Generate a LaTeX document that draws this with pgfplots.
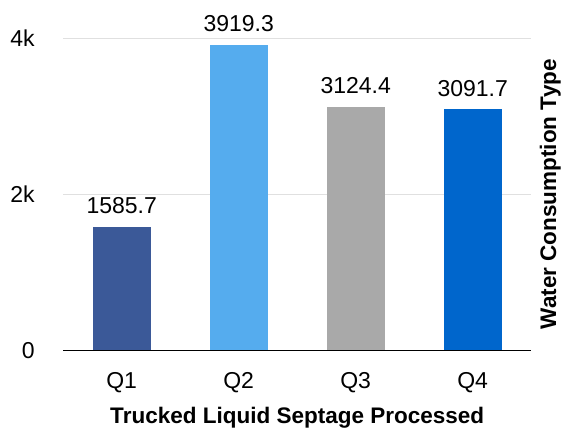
\documentclass[border=0pt]{standalone}
\usepackage{pgfplots}
\pgfplotsset{compat=1.18}
\usepackage{fontspec}
\setmainfont{Liberation Sans}
\definecolor{c1}{HTML}{3B5998}
\definecolor{c2}{HTML}{55ACEE}
\definecolor{c3}{HTML}{A9A9A9}
\definecolor{c4}{HTML}{0066CC}
\definecolor{gridc}{HTML}{E0E0E0}
\begin{document}
\begin{tikzpicture}[x=1pt,y=1pt]
\path[use as bounding box] (0,0) rectangle (562,429);
\begin{axis}[
  at={(104,101)}, anchor=origin,
  scale only axis, width=468pt, height=312pt,
  xmin=-0.5, xmax=3.5, ymin=0, ymax=4000,
  xtick={0,1,2,3}, xticklabels={Q1,Q2,Q3,Q4},
  ytick={0,2000,4000}, yticklabels={0,2k,4k},
  ymajorgrids, grid style={gridc, line width=1.2pt},
  axis x line*=bottom, axis y line*=left,
  y axis line style={draw=none},
  x axis line style={black, line width=1.3pt, -},
  major tick length=0pt,
  tick label style={font=\fontsize{23}{27}\selectfont},
  xticklabel style={yshift=-19pt},
  yticklabel style={xshift=-25pt},
  ybar, bar width=58pt,
  nodes near coords,
  nodes near coords style={font=\fontsize{23}{27}\selectfont, black, yshift=9pt},
  point meta=explicit symbolic,
  xlabel={\textbf{Trucked Liquid Septage Processed}},
  xlabel style={font=\fontsize{22.5}{26}\selectfont, yshift=-7pt},
  clip=false,
]
\addplot[fill=c1, draw=none, bar shift=0pt] coordinates {(0,1585.7) [1585.7]};
\addplot[fill=c2, draw=none, bar shift=0pt] coordinates {(1,3919.3) [3919.3]};
\addplot[fill=c3, draw=none, bar shift=0pt] coordinates {(2,3124.4) [3124.4]};
\addplot[fill=c4, draw=none, bar shift=0pt] coordinates {(3,3091.7) [3091.7]};
\node[rotate=90, font=\fontsize{22.5}{26}\selectfont\bfseries] at ([xshift=19pt]rel axis cs:1,0.5) {Water Consumption Type};
\end{axis}
\end{tikzpicture}
\end{document}
